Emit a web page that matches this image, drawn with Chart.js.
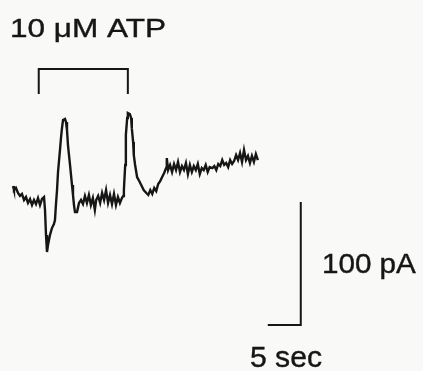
<!DOCTYPE html>
<html>
<head>
<meta charset="utf-8">
<script src="https://cdn.jsdelivr.net/npm/chart.js@4/dist/chart.umd.min.js"></script>
<style>
  html, body { margin: 0; padding: 0; background: #f9f9f7; }
  canvas { display: block; }
</style>
</head>
<body>
<canvas id="trace" width="423" height="371"></canvas>
<script>
// time (s) and current (pA)
const timeSec = [
  0.0, 0.15, 0.45, 0.76, 1.06, 1.36, 1.67, 1.97, 2.27, 2.58, 2.88, 3.18, 3.48, 3.79, 4.09, 4.39, 4.70, 4.85,
  5.0, 5.15, 5.3, 5.6, 5.9, 6.2, 6.36, 6.5, 6.67, 6.82, 7.12, 7.27, 7.42, 7.58, 7.88, 8.03, 8.18, 8.33, 8.48, 8.64,
  8.79, 8.94, 9.09, 9.24, 9.39, 9.7, 10.0, 10.3, 10.6, 10.9, 11.2, 11.5, 11.8, 12.1, 12.4, 12.6, 12.9, 13.2, 13.5,
  13.8, 14.1, 14.4, 14.7, 15.0, 15.3, 15.6, 15.9, 16.2, 16.5, 16.7, 16.8, 17.0, 17.1, 17.3, 17.4, 17.7, 17.9, 18.0,
  18.2, 18.3, 18.5, 18.8, 19.2, 19.5, 19.8, 20.2, 20.5, 20.8, 21.1, 21.4, 21.7, 22.0, 22.3, 22.6, 22.9, 23.2, 23.3,
  23.5, 23.8, 24.1, 24.4, 24.7, 25.0, 25.3, 25.6, 25.9, 26.2, 26.5, 26.8, 27.1, 27.4, 27.7, 28.0, 28.3, 28.6, 28.9,
  29.2, 29.5, 29.8, 30.2, 30.5, 30.8, 31.1, 31.4, 31.7, 32.0, 32.3, 32.6, 32.9, 33.2, 33.5, 33.8, 34.1, 34.4, 34.7,
  35.0, 35.3, 35.6, 35.9, 36.2, 36.5, 36.8, 37.1
];
const currentPA = [
  11.4, 8.1, 9.8, 5.7, 3.3, 4.9, 0, 2.4, -2.4, 0.8, -4.1, 0, -3.3, 1.6, -4.1, 0.8, 2.4, -8.1,
  -28.5, -42.3, -36.6, -28.5, -22.8, -19.5, -16.3, -4.1, 8.1, 22.8, 40.7, 50.4, 58.5, 65, 65.9, 63.4, 56.9, 44.7, 36.6, 28.5,
  20.3, 12.2, 4.1, -4.1, -9.8, -9.8, -2.4, 0, -3.3, 3.3, -2.4, 4.1, -4.1, 1.6, -8.1, 0, 3.3, -2.4, 5.7,
  0, 8.1, -2.4, 4.1, -3.3, 4.9, -4.1, 2.4, -2.4, 1.6, 3.3, 8.1, 28.5, 52.8, 66.7, 70.7, 69.9, 66.7, 58.5,
  47.2, 36.6, 28.5, 18.7, 14.6, 11.4, 8.1, 5.7, 4.1, 8.1, 4.9, 9.8, 7.3, 13, 15.4, 18.7, 22, 26, 34.1,
  24.4, 28.5, 22.8, 29.3, 24.4, 30.9, 22.8, 27.6, 24.4, 30.1, 21.1, 28.5, 22.8, 27.6, 24.4, 29.3, 21.1, 26, 24.4,
  28.5, 22.8, 26.8, 26, 27.6, 24.4, 29.3, 27.6, 32.5, 28.5, 30.1, 26.8, 32.5, 29.3, 31.7, 36.6, 32.5, 38.2, 30.9,
  40.7, 32.5, 35.8, 30.1, 35.8, 30.9, 37.4, 32.5
];

// ATP application bracket
const atpStart = 3.9, atpEnd = 17.4;
const bracketTop = 106.5, bracketFoot = 86.2;

// scale bars: 5 sec, 100 pA
const barX0 = 38.6, barX1 = 43.6;
const barY0 = -101.6, barY1 = -1.6;

const labels = [
  { text: '10 μM ATP', x: -0.45, y: 132.5, size: 26, width: 156 },
  { text: '100 pA', x: 46.8, y: -59.3, size: 28, width: 94 },
  { text: '5 sec', x: 35.9, y: -135.8, size: 30, width: 72 }
];

const ink = '#161616';

const tracePoints = timeSec.map((t, i) => ({ x: t, y: currentPA[i] }));

const textPlugin = {
  id: 'textLabels',
  beforeDraw(chart) {
    const ctx = chart.ctx;
    ctx.save();
    ctx.fillStyle = '#f9f9f7';
    ctx.fillRect(0, 0, chart.width, chart.height);
    ctx.restore();
  },
  afterDraw(chart) {
    const ctx = chart.ctx;
    const xs = chart.scales.x, ys = chart.scales.y;
    ctx.save();
    ctx.fillStyle = ink;
    ctx.strokeStyle = ink;
    ctx.lineWidth = 0.4;
    ctx.textBaseline = 'alphabetic';
    labels.forEach(l => {
      ctx.font = l.size + 'px "Liberation Sans", Arial, sans-serif';
      const w = ctx.measureText(l.text).width;
      const px = xs.getPixelForValue(l.x), py = ys.getPixelForValue(l.y);
      ctx.save();
      ctx.translate(px, py);
      ctx.scale(l.width / w, 1);
      ctx.fillText(l.text, 0, 0);
      ctx.strokeText(l.text, 0, 0);
      ctx.restore();
    });
    ctx.restore();
  }
};

new Chart(document.getElementById('trace'), {
  type: 'line',
  data: {
    datasets: [
      { data: tracePoints, borderColor: ink, borderWidth: 2.4 },
      {
        data: [
          { x: atpStart, y: bracketFoot }, { x: atpStart, y: bracketTop },
          { x: atpEnd, y: bracketTop }, { x: atpEnd, y: bracketFoot }
        ],
        borderColor: ink, borderWidth: 2
      },
      {
        data: [{ x: barX0, y: barY0 }, { x: barX1, y: barY0 }, { x: barX1, y: barY1 }],
        borderColor: ink, borderWidth: 2
      }
    ]
  },
  options: {
    responsive: false,
    animation: false,
    layout: { padding: 0 },
    elements: { point: { radius: 0 }, line: { tension: 0, borderJoinStyle: 'miter', borderCapStyle: 'butt' } },
    plugins: { legend: { display: false }, tooltip: { enabled: false } },
    scales: {
      x: { type: 'linear', min: -1.97, max: 62.12, display: false },
      y: { type: 'linear', min: -139.0, max: 162.6, display: false }
    }
  },
  plugins: [textPlugin]
});
</script>
</body>
</html>
